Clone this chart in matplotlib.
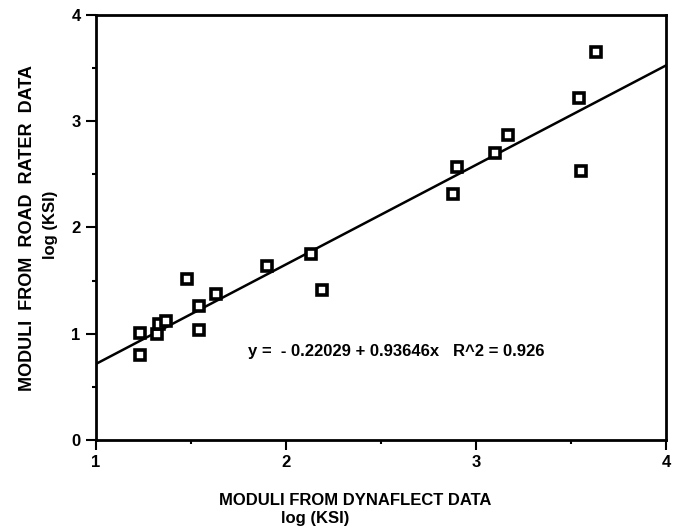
import matplotlib.pyplot as plt
import numpy as np

plt.rcParams['font.family'] = ['Liberation Sans', 'DejaVu Sans']

# log moduli (KSI)
dynaflect = [1.23, 1.23, 1.32, 1.33, 1.37, 1.48, 1.54, 1.54, 1.63, 1.90,
             2.13, 2.19, 2.88, 2.90, 3.10, 3.17, 3.54, 3.55, 3.63]
road_rater = [1.01, 0.80, 1.00, 1.09, 1.12, 1.515, 1.26, 1.035, 1.37, 1.635,
              1.75, 1.41, 2.315, 2.57, 2.70, 2.87, 3.22, 2.535, 3.65]

# regression reported on the chart
intercept = -0.22029
slope = 0.93646
r2 = 0.926

fig = plt.figure(figsize=(6.79, 5.31), dpi=100)
ax = fig.add_axes([0.1414, 0.1714, 0.8396, 0.8004])

xs = np.array([1, 4])
ax.plot(xs, intercept + slope * xs, color='black', lw=1.8)
ax.plot(dynaflect, road_rater, 's', ms=6.5, mfc='white', mec='black', mew=2.6)

ax.text(1.8, 0.83, "y =  - 0.22029 + 0.93646x   R^2 = 0.926",
        fontsize=12, fontweight='bold', va='center')

ax.set_xlim(1, 4)
ax.set_ylim(0, 4)
ax.set_xticks([1, 2, 3, 4])
ax.set_yticks([0, 1, 2, 3, 4])
ax.set_xticks([1.5, 2.5, 3.5], minor=True)
ax.set_yticks([0.5, 1.5, 2.5, 3.5], minor=True)
ax.tick_params(which='major', direction='out', length=7, width=1.5,
               labelsize=12, pad=4)
ax.tick_params(which='minor', direction='out', length=3, width=1.5)
for lab in ax.get_xticklabels() + ax.get_yticklabels():
    lab.set_fontweight('bold')
for sp in ax.spines.values():
    sp.set_linewidth(2)

fig.text(0.041, 0.571, "MODULI  FROM  ROAD  RATER  DATA", rotation=90,
         fontsize=13, fontweight='bold', ha='center', va='center')
fig.text(0.074, 0.576, "log (KSI)", rotation=90,
         fontsize=12, fontweight='bold', ha='center', va='center')
fig.text(0.523, 0.058, "MODULI FROM DYNAFLECT DATA",
         fontsize=12, fontweight='bold', ha='center', va='center')
fig.text(0.464, 0.0226, "log (KSI)",
         fontsize=12, fontweight='bold', ha='center', va='center')

fig.savefig('out.png', dpi=100)
